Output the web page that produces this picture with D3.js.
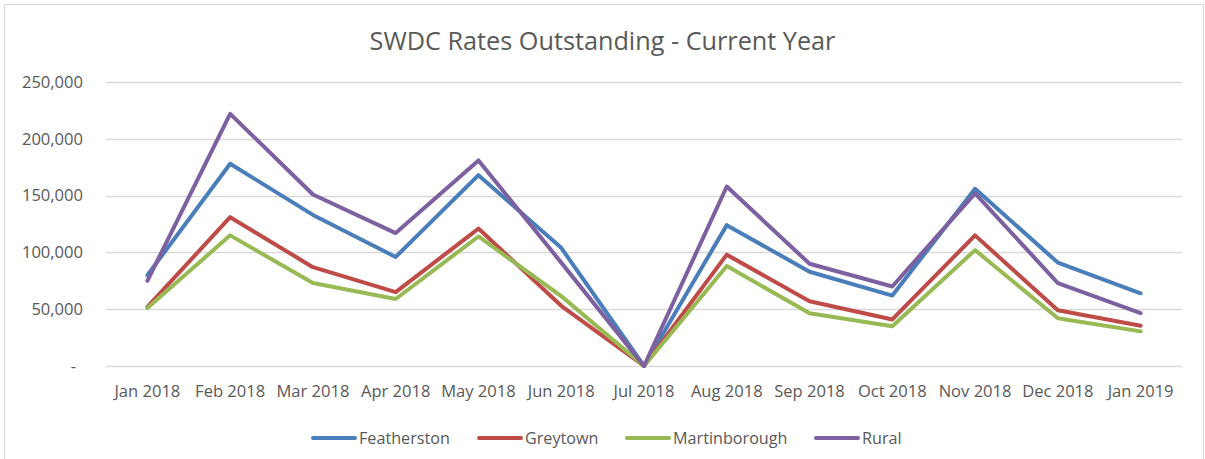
<!DOCTYPE html>
<html>
<head>
<meta charset="utf-8">
<script src="https://cdn.jsdelivr.net/npm/d3@7"></script>
<style>
  body { margin: 0; background: #fff; }
  svg { display: block; }
  text { font-family: "Open Sans", "Noto Sans", sans-serif; fill: #595959; }
</style>
</head>
<body>
<svg id="chart"></svg>
<script>
const months = ["Jan 2018", "Feb 2018", "Mar 2018", "Apr 2018", "May 2018", "Jun 2018",
  "Jul 2018", "Aug 2018", "Sep 2018", "Oct 2018", "Nov 2018", "Dec 2018", "Jan 2019"];

const featherston = [80000, 178000, 133000, 96000, 168000, 104000, 0, 124000, 83000, 62000, 156000, 91000, 64000];
const greytown = [52000, 131000, 87000, 65000, 121000, 53000, 0, 98000, 57000, 41000, 115000, 49000, 35500];
const martinborough = [51000, 115000, 73000, 59000, 114000, 61500, 0, 88000, 46500, 35000, 102000, 42000, 30500];
const rural = [75000, 222000, 151000, 117000, 181000, 91000, 0, 158000, 90000, 70000, 152000, 73000, 46500];

const seriesNames = ["Featherston", "Greytown", "Martinborough", "Rural"];
const yTicks = [0, 50000, 100000, 150000, 200000, 250000];

const colors = {
  Featherston: "#4A7EBB",
  Greytown: "#BE4B48",
  Martinborough: "#98B954",
  Rural: "#7D60A0"
};

const width = 1205;
const height = 459;

const svg = d3.select("#chart")
  .attr("width", width)
  .attr("height", height);

// chart area border
svg.append("rect")
  .attr("x", 4.5)
  .attr("y", 4.5)
  .attr("width", 1199)
  .attr("height", 470)
  .attr("fill", "#fff")
  .attr("stroke", "#D9D9D9")
  .attr("stroke-width", 1);

const plot = { left: 106, right: 1182, top: 82, bottom: 366 };

const x = d3.scalePoint()
  .domain(months)
  .range([plot.left, plot.right])
  .padding(0.5);

const y = d3.scaleLinear()
  .domain([0, 250000])
  .range([plot.bottom, plot.top]);

// helper: pick a font size so that sample text has the wanted width
function fitSize(sample, targetWidth, weight) {
  const t = svg.append("text")
    .attr("font-size", 20)
    .attr("font-weight", weight || 400)
    .text(sample);
  const w = t.node().getComputedTextLength();
  t.remove();
  return 20 * targetWidth / w;
}

const tickSize = fitSize("Jan 2018", 66);
const legendSize = fitSize("Featherston", 91);
const titleSize = fitSize("SWDC Rates Outstanding - Current Year", 466);

// gridlines
svg.append("g")
  .selectAll("line")
  .data(yTicks)
  .join("line")
  .attr("x1", plot.left)
  .attr("x2", plot.right)
  .attr("y1", d => Math.round(y(d)) + 0.5)
  .attr("y2", d => Math.round(y(d)) + 0.5)
  .attr("stroke", "#D9D9D9")
  .attr("stroke-width", 1.3);

// y axis labels
const fmt = d3.format(",");
svg.append("g")
  .selectAll("text")
  .data(yTicks)
  .join("text")
  .attr("x", d => d === 0 ? 76 : 83)
  .attr("y", d => y(d))
  .attr("dy", "0.35em")
  .attr("text-anchor", "end")
  .attr("font-size", tickSize)
  .text(d => d === 0 ? "-" : fmt(d));

// x axis labels
svg.append("g")
  .selectAll("text")
  .data(months)
  .join("text")
  .attr("x", d => x(d))
  .attr("y", 397)
  .attr("text-anchor", "middle")
  .attr("font-size", tickSize)
  .text(d => d);

// title
svg.append("text")
  .attr("x", width / 2)
  .attr("y", 50)
  .attr("text-anchor", "middle")
  .attr("font-size", titleSize)
  .text("SWDC Rates Outstanding - Current Year");

// lines
const seriesData = [featherston, greytown, martinborough, rural];
const line = d3.line()
  .x((d, i) => x(months[i]))
  .y(d => y(d));

svg.append("g")
  .selectAll("path")
  .data(seriesData)
  .join("path")
  .attr("d", d => line(d))
  .attr("fill", "none")
  .attr("stroke", (d, i) => colors[seriesNames[i]])
  .attr("stroke-width", 4)
  .attr("stroke-linejoin", "round")
  .attr("stroke-linecap", "round");

// legend
const legendX = [313, 479, 627, 816];
const legend = svg.append("g")
  .selectAll("g")
  .data(seriesNames)
  .join("g")
  .attr("transform", (d, i) => `translate(${legendX[i]},438)`);

legend.append("line")
  .attr("x1", 0)
  .attr("x2", 42)
  .attr("stroke", d => colors[d])
  .attr("stroke-width", 4)
  .attr("stroke-linecap", "round");

legend.append("text")
  .attr("x", 46)
  .attr("y", 0)
  .attr("dy", "0.35em")
  .attr("font-size", legendSize)
  .text(d => d);
</script>
</body>
</html>
